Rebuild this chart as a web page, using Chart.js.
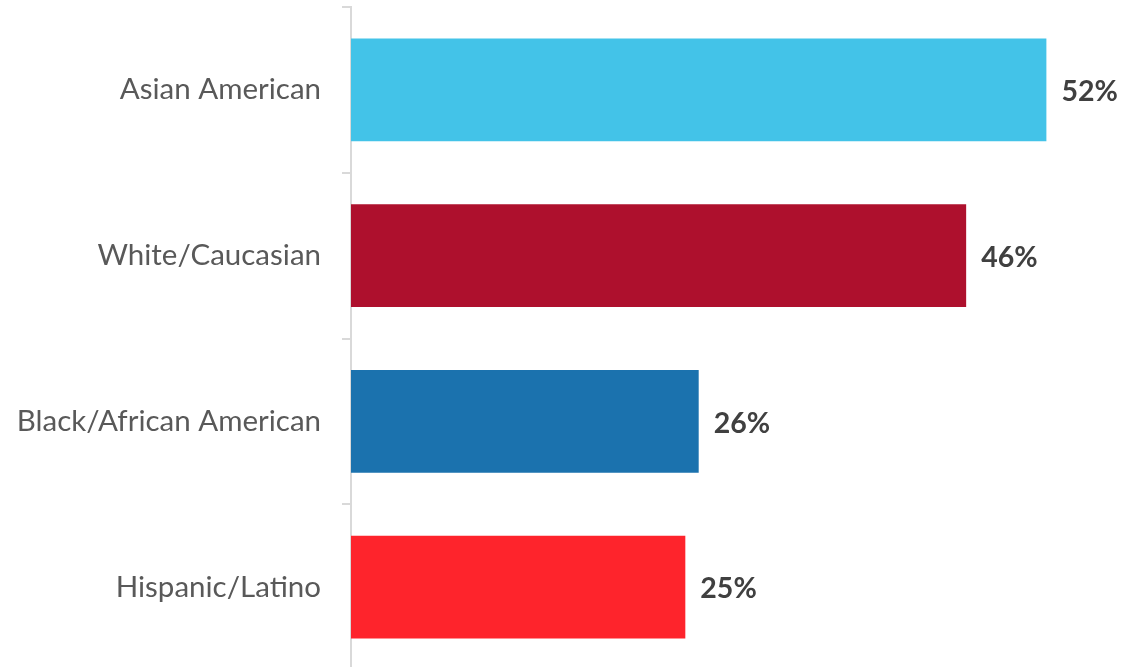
<!DOCTYPE html>
<html>
<head>
<meta charset="utf-8">
<script src="https://cdn.jsdelivr.net/npm/chart.js@4/dist/chart.umd.min.js"></script>
<style>
  html, body { margin: 0; padding: 0; background: #fff; overflow: hidden; }
  #wrap { width: 1144px; height: 672px; }
</style>
</head>
<body>
<div id="wrap"><canvas id="chart"></canvas></div>
<script>
const categories = ['Asian American', 'White/Caucasian', 'Black/African American', 'Hispanic/Latino'];
const values = [52, 46, 26, 25];
const barColors = ['#43C3E8', '#AE102D', '#1B72AE', '#FE242C'];

// writes "NN%" just past the end of each bar
const valueLabels = {
  id: 'valueLabels',
  afterDatasetsDraw(chart) {
    const ctx = chart.ctx;
    const meta = chart.getDatasetMeta(0);
    ctx.save();
    ctx.font = 'bold 28.5px Lato';
    ctx.fillStyle = '#404040';
    ctx.textAlign = 'left';
    ctx.textBaseline = 'middle';
    meta.data.forEach((bar, i) => {
      ctx.fillText(values[i] + '%', bar.x + 15, bar.y + 2);
    });
    ctx.restore();
  }
};

new Chart(document.getElementById('chart'), {
  type: 'bar',
  data: {
    labels: categories,
    datasets: [{
      data: values,
      backgroundColor: barColors,
      borderWidth: 0,
      barPercentage: 0.62,
      categoryPercentage: 1
    }]
  },
  options: {
    indexAxis: 'y',
    responsive: true,
    maintainAspectRatio: false,
    animation: false,
    layout: { padding: { top: 7, right: 4, bottom: 2, left: 0 } },
    scales: {
      x: { display: false, min: 0, max: 59 },
      y: {
        afterFit(scale) {
          scale.width = 351;
          scale.paddingTop = 0;
          scale.paddingBottom = 0;
        },
        border: { display: true, color: '#d9d9d9', width: 2 },
        grid: { drawOnChartArea: false, drawTicks: true, tickLength: 9, color: '#d9d9d9', lineWidth: 2 },
        ticks: { color: '#595959', font: { family: 'Lato', size: 29.5 }, padding: 21 }
      }
    },
    plugins: {
      legend: { display: false },
      tooltip: { enabled: false }
    }
  },
  plugins: [valueLabels]
});
</script>
</body>
</html>
